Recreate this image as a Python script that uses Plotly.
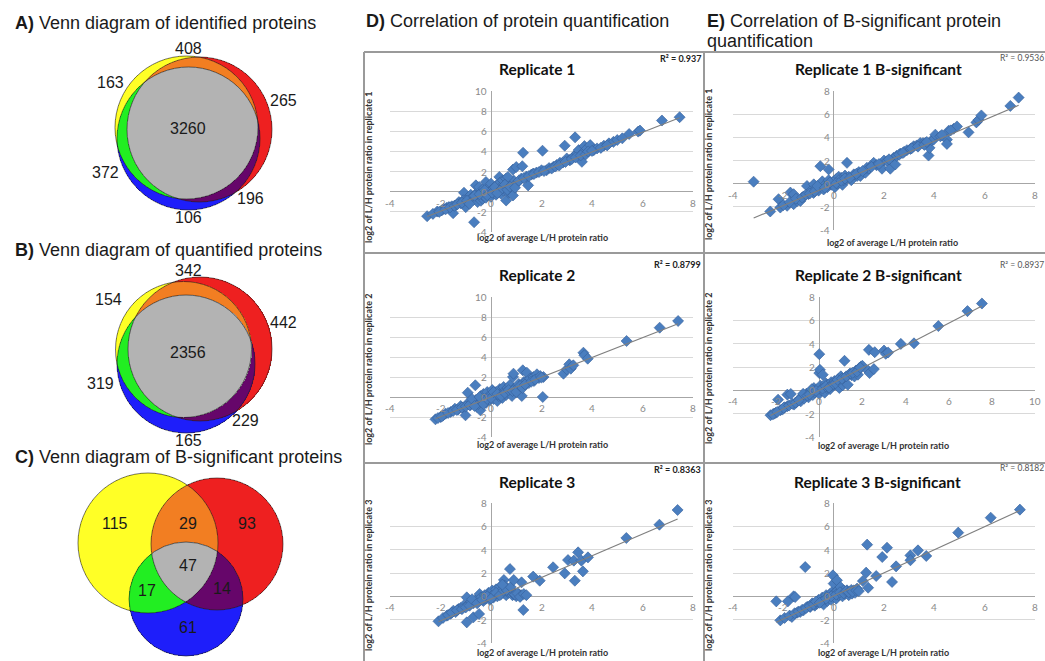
import numpy as np
import plotly.graph_objects as go

W, H = 1045, 661

# ---------------- data ----------------
venn_regions = ["Y", "R", "YR", "B", "YB", "RB", "YRB"]
venn_identified = [163, 265, 408, 106, 372, 196, 3260]
venn_quantified = [154, 442, 342, 165, 319, 229, 2356]
venn_bsig = [115, 93, 29, 61, 17, 14, 47]

section_titles = ["A)", "B)", "C)", "D)", "E)"]
section_texts = [" Venn diagram of identified proteins",
                 " Venn diagram of quantified proteins",
                 " Venn diagram of B-significant proteins",
                 " Correlation of protein quantification",
                 " Correlation of B-significant protein"]

panel_titles = ["Replicate 1", "Replicate 2", "Replicate 3",
                "Replicate 1 B-significant", "Replicate 2 B-significant", "Replicate 3 B-significant"]
r2_labels = ["R² = 0.937", "R² = 0.8799", "R² = 0.8363", "R² = 0.9536", "R² = 0.8937", "R² = 0.8182"]
y_titles = ["log2 of L/H protein ratio in replicate 1", "log2 of L/H protein ratio in replicate 2",
            "log2 of L/H protein ratio in replicate 3"] * 2
x_title = "log2 of average L/H protein ratio"
x_ticks = [[-4, -2, 0, 2, 4, 6, 8], [-4, -2, 0, 2, 4, 6, 8], [-4, -2, 0, 2, 4, 6, 8],
           [-4, -2, 0, 2, 4, 6, 8], [-4, -2, 0, 2, 4, 6, 8, 10], [-4, -2, 0, 2, 4, 6, 8]]
y_ticks = [[-4, -2, 0, 2, 4, 6, 8, 10], [-4, -2, 0, 2, 4, 6, 8, 10], [-4, -2, 0, 2, 4, 6, 8],
           [-4, -2, 0, 2, 4, 6, 8], [-4, -2, 0, 2, 4, 6, 8], [-4, -2, 0, 2, 4, 6, 8]]
trend_slope = [0.98, 0.99, 0.93, 0.925, 0.957, 0.99]
trend_intercept = [0.02, 0.0, -0.24, -0.03, 0.01, 0.04]

rep1_x = [-2.53, -2.13, -1.95, -1.87, -1.75, -1.67, -1.55, -1.4, -1.27, -1.5, -1.0, -1.07, -0.67, -1.2, -1.1,
          -0.9, -0.8, -0.73, -0.7, -0.6, -0.6, -0.53, -0.5, -0.47, -0.4, -0.4, -0.33, -0.3, -0.3, -0.2, -0.2,
          -0.2, -0.1, -0.1, 0.0, 0.0, 0.0, 0.1, 0.1, 0.2, 0.2, 0.2, 0.3, 0.33, 0.35, 0.4, 0.4, 0.47, 0.47,
          0.5, 0.6, 0.6, 0.6, 0.7, 0.7, 0.8, 0.87, 0.8, 0.9, 1.0,
          0.67, 0.87, 1.0, 1.24, 1.27, 1.47, 1.2, 1.4, 1.6, 1.67, 1.8, 2.0, 2.04, 2.2, 2.3, 2.47, 2.6, 2.73,
          2.85, 2.92, 3.0, 3.1, 3.13, 3.27, 3.33, 3.4, 3.47, 3.53, 3.6, 3.65, 3.7, 3.8, 3.93, 4.07, 4.2,
          4.47, 4.67, 4.85, 5.0, 5.47, 5.83, 5.9, 6.77, 7.47,
          -2.3, -2.05, -1.8, -1.62, -1.45, -1.33, -1.15, -0.95, -0.85, -0.65, -0.45, -0.25, -0.15, 0.05,
          0.15, 0.25, 0.45, 0.55, 0.65, 0.75, 0.95, 1.1, 1.3, 1.5, 1.7, 1.9, 2.1, 2.4, 2.55, 2.7, 2.95,
          3.2, 3.35, 3.55, 3.75, 3.85, 4.0, 4.35, 4.6, 5.2]
rep1_y = [-2.43, -1.97, -1.85, -1.7, -1.6, -1.53, -1.45, -1.37, -1.03, -2.13, -1.53, -0.1, -3.03, -1.15, -0.85,
          -0.6, -0.3, -0.53, -0.8, -0.2, 0.63, -1.03, -0.5, 0.47, -0.1, -0.9, -0.7, 0.3, -0.4, 0.97, 0.0,
          -0.6, 0.4, -0.2, 0.8, 0.1, -0.5, 0.3, -0.1, 0.13, 0.6, -0.3, 0.2, 1.47, 0.9, 0.5, -0.2, 0.47, 1.13,
          0.1, 1.3, -0.87, 0.4, 0.9, -0.1, -0.03, -0.37, 0.6, 1.1, 0.8,
          1.47, 2.2, 2.45, 2.53, 3.87, 0.63, 1.3, 1.5, 1.7, 1.8, 1.9, 2.13, 4.07, 2.13, 2.35, 2.47, 2.65, 2.87,
          2.9, 4.57, 3.3, 3.15, 3.13, 3.47, 5.4, 3.8, 4.13, 3.47, 2.97, 3.9, 4.53, 4.3, 4.63, 4.13, 4.3,
          4.57, 4.8, 4.95, 5.13, 5.73, 5.97, 6.07, 7.07, 7.4,
          -2.2, -2.0, -1.75, -1.55, -1.4, -1.25, -1.1, -0.9, -1.2, -0.4, -0.25, 0.15, -0.35, -0.1,
          0.45, -0.15, 0.35, 0.7, 0.2, 0.5, 0.4, 1.1, 1.35, 1.55, 1.75, 1.95, 2.05, 2.3, 2.5, 2.6, 2.95,
          3.25, 3.4, 3.6, 3.7, 4.0, 4.05, 4.35, 4.6, 5.3]

rep2_x = [-2.2, -2.0, -1.9, -1.8, -1.6, -1.43, -1.3, -1.2, -1.1, -1.01, -0.95, -0.92, -0.82, -0.62, -0.55,
          -0.42, -0.7, -0.6, -0.5, -0.4, -0.35, -0.3, -0.25, -0.2, -0.15, -0.1, -0.05, 0.0, 0.05, 0.1,
          0.15, 0.2, 0.25, 0.3, 0.35, 0.4, 0.45, 0.5, 0.55, 0.6, 0.65, 0.7, 0.75, 0.83, 0.87, 0.89, 0.9,
          1.0, 1.03, 1.1, 1.22, 1.26, 1.3, 1.42, 1.42, 1.5, 1.55, 1.68, 1.7, 1.82, 1.9, 2.05, 2.08, 2.87,
          3.0, 3.1, 3.16, 3.26, 3.66, 3.7, 3.83, 5.37, 6.68, 7.41,
          -2.1, -1.95, -1.7, -1.5, -1.35, -1.15, -1.0, -0.85, -0.75, -0.65, -0.45, -0.3, -0.15, 0.0,
          0.1, 0.25, 0.4, 0.55, 0.7, 0.85, 1.0, 1.15, 1.25, 1.35, 1.6, 1.75, 1.95, 2.0]
rep2_y = [-2.23, -2.0, -1.85, -1.67, -1.5, -1.17, -1.25, -0.9, -1.1, -1.83, -0.7, 0.43, -0.83, 1.17, -1.0,
          -1.33, -0.5, -0.3, -0.7, 0.1, -0.4, 0.3, -0.1, -0.6, 0.5, 0.0, -0.3, 0.3, 0.7, -0.2,
          0.2, 0.5, -0.4, 0.1, 0.8, 0.4, -0.1, 1.0, 0.6, 0.2, 0.9, 0.5, 1.2, 0.1, 2.0, 2.33, 0.8,
          0.7, 1.0, 1.3, 0.1, 2.67, 1.5, 1.67, 2.43, 1.4, 1.83, 2.0, 1.6, 2.27, 1.9, 0.0, 2.0, 2.33,
          2.77, 3.27, 2.83, 3.17, 4.43, 4.17, 3.83, 5.6, 6.93, 7.6,
          -2.1, -1.95, -1.6, -1.4, -1.3, -1.05, -0.95, -0.8, -0.2, -0.9, 0.0, -0.7, -0.2, -0.1,
          0.5, 0.3, 0.1, 0.4, 0.7, 0.6, 0.5, 1.1, 0.9, 1.25, 1.55, 1.75, 2.1, 1.95]

rep3_x = [-2.08, -1.75, -1.6, -1.49, -1.4, -1.29, -1.2, -1.09, -0.96, -0.96, -0.7, -0.47, -0.9, -0.8, -0.7,
          -0.6, -0.5, -0.45, -0.4, -0.3, -0.25, -0.2, -0.1, -0.05, 0.0, 0.05, 0.1, 0.15, 0.2, 0.25, 0.3,
          0.35, 0.4, 0.45, 0.5, 0.51, 0.55, 0.6, 0.65, 0.7, 0.75, 0.8, 0.85, 0.9, 1.0, 1.1, 1.2, 1.21,
          1.28, 1.67, 1.93, 2.46, 2.92, 3.05, 3.28, 3.32, 3.45, 3.58, 3.64, 3.84, 5.36, 6.67, 7.39,
          -1.9, -1.7, -1.55, -1.35, -1.15, -1.0, -0.85, -0.75, -0.55, -0.35, -0.15, 0.0, 0.2, 0.35, 0.5,
          0.62, 0.78, 0.95, 1.05, 1.15, 1.3, 1.4, 0.9, 0.45]
rep3_y = [-2.14, -1.66, -1.5, -1.23, -1.35, -1.09, -1.0, -0.8, -2.23, -0.09, -1.8, -1.51, -0.7, -0.5, -0.6,
          -0.3, -0.45, 0.2, -0.1, -0.4, 0.1, -0.2, 0.3, -0.3, 0.1, 0.5, -0.1, 0.3, 0.6, 0.0, 0.4,
          0.8, 0.2, 0.6, 0.3, 1.4, 0.9, 0.1, 0.6, 0.3, 2.34, 0.5, 0.1, 0.2, 0.0, 0.2, 0.1, 1.2,
          -1.17, 1.69, 1.34, 2.49, 1.97, 3.11, 3.06, 1.34, 3.77, 3.06, 2.14, 3.34, 5.0, 6.14, 7.4,
          -1.85, -1.6, -1.4, -1.2, -1.1, -0.95, -0.8, -0.25, -0.6, -0.3, 0.0, -0.2, 0.3, 0.1, 0.5,
          0.55, 0.8, 0.15, 0.25, -0.05, 0.2, 0.1, 1.4, 1.0]

bsig1_x = [-3.18, -2.52, -2.19, -2.12, -1.85, -1.72, -1.59, -1.59, -1.45, -1.32, -1.2, -1.06, -1.0, -0.9,
           -0.79, -0.8, -0.7, -0.6, -0.53, -0.5, -0.45, -0.4, -0.3, -0.25, -0.2, -0.2, -0.1, 0.0, 0.05, 0.1,
           0.15, 0.2, 0.25, 0.3, 0.35, 0.4, 0.45, 0.53, 0.5, 0.6, 0.7, 0.8, 0.93, 1.06, 1.0, 1.26, 1.32,
           1.4, 1.59, 1.7, 1.92, 2.0, 2.12, 2.25, 2.38, 2.45, 2.5, 2.65, 2.8, 2.91, 3.05, 3.18, 3.3, 3.44,
           3.55, 3.64, 3.77, 3.81, 3.9, 3.97, 4.04, 4.24, 4.5, 4.5, 4.57, 4.77, 4.9, 5.36, 5.67, 5.76,
           5.87, 7.02, 7.35,
           -2.0, -1.75, -1.5, -1.25, -1.1, -0.95, -0.75, -0.65, -0.35, -0.15, 0.1, 0.3, 0.45, 0.65, 0.9,
           1.15, 1.5, 1.8, 2.2, 2.6, 2.75, 3.1, 3.35, 3.6, 3.7, 4.3, 4.65]
bsig1_y = [0.17, -2.4, -1.34, -2.06, -1.91, -0.77, -0.91, -1.77, -1.5, -1.49, -1.1, -0.2, -0.9, -0.6,
           -0.06, -0.8, -0.4, -0.6, 1.51, -0.2, 0.2, -0.5, 0.0, -0.3, 1.23, 0.3, -0.1, 0.2, -0.3, 0.4,
           0.0, 0.6, 0.2, 0.5, -0.1, 0.3, 0.7, 1.8, 0.4, 0.6, 0.3, 0.8, 0.66, 0.66, 1.0, 0.94, 1.37,
           1.3, 1.8, 1.6, 1.29, 2.0, 1.94, 1.29, 2.23, 1.66, 2.4, 2.6, 2.75, 2.89, 3.0, 3.23, 3.3, 3.51,
           3.5, 3.51, 2.43, 3.09, 3.75, 3.8, 4.23, 4.09, 3.8, 3.43, 4.57, 4.74, 4.94, 4.43, 5.29, 5.51,
           5.89, 6.71, 7.43,
           -1.85, -1.6, -1.3, -1.2, -0.95, -0.85, -0.65, -0.2, -0.35, 0.1, 0.05, 0.25, 0.45, 0.5, 0.85,
           1.1, 1.45, 1.7, 2.1, 2.5, 2.65, 3.05, 3.2, 3.35, 3.6, 4.2, 4.6]

bsig2_x = [-2.26, -2.1, -2.02, -1.91, -1.8, -1.71, -1.6, -1.48, -1.48, -1.32, -1.17, -1.05, -0.86, -0.8,
           -0.7, -0.6, -0.5, -0.4, -0.3, -0.25, -0.2, -0.1, 0.0, 0.0, 0.03, 0.0, 0.05, 0.1, 0.16, 0.2, 0.25,
           0.3, 0.35, 0.4, 0.5, 0.55, 0.6, 0.7, 0.8, 0.93, 0.9, 1.09, 1.0, 1.17, 1.2, 1.32, 1.4, 1.5, 1.63,
           1.7, 1.79, 1.85, 1.94, 2.0, 2.26, 2.3, 2.33, 2.53, 2.57, 3.0, 3.08, 3.19, 3.78, 4.39, 5.52,
           6.87, 7.54,
           -2.15, -1.95, -1.65, -1.4, -1.25, -1.1, -0.95, -0.75, -0.55, -0.45, -0.35, -0.15, 0.15, 0.3,
           0.45, 0.65, 0.75, 0.85, 1.05, 1.25, 1.45, 1.55, 1.75, 1.9]
bsig2_y = [-2.13, -2.0, -1.93, -0.8, -1.7, -1.65, -1.45, -1.36, -0.37, -0.31, -1.22, -1.0, -0.94, -0.5,
           -0.7, -0.3, -0.6, -0.1, -0.4, 0.2, -0.2, 0.1, 3.1, 1.48, 1.76, -0.3, 0.4, 0.0, 1.34, 0.3, -0.2,
           0.6, 0.2, 0.5, 0.1, 0.7, 0.4, 0.8, 0.5, 0.2, 1.0, 0.43, 1.2, 2.53, 1.1, 0.48, 1.4, 1.3, 1.19,
           1.7, 1.34, 1.9, 2.05, 2.1, 1.7, 3.47, 1.48, 1.82, 3.27, 3.41, 3.13, 3.24, 3.98, 4.03, 5.51,
           6.79, 7.44,
           -2.05, -1.85, -1.5, -1.3, -1.15, -1.05, -0.85, -0.3, -0.45, -0.35, 0.1, -0.05, 0.15, 0.35,
           0.25, 0.55, 0.6, 0.9, 1.0, 1.2, 1.45, 1.5, 1.6, 1.95]

bsig3_x = [-2.28, -2.12, -1.82, -1.66, -1.59, -1.53, -1.45, -1.33, -1.2, -1.13, -1.05, -0.93, -0.85, -0.75,
           -0.66, -0.6, -0.5, -0.45, -0.4, -0.35, -0.3, -0.25, -0.2, -0.15, -0.1, -0.05, -0.03, 0.0, 0.0,
           0.05, 0.1, 0.13, 0.15, 0.2, 0.27, 0.3, 0.35, 0.4, 0.45, 0.53, 0.55, 0.6, 0.65, 0.73, 0.8, 0.85,
           0.93, 1.16, 1.29, 1.33, 1.37, 1.69, 1.93, 2.12, 2.32, 2.48, 3.05, 3.05, 3.35, 3.68, 4.95, 6.24,
           7.4,
           -1.95, -1.75, -1.55, -1.4, -1.25, -1.1, -0.95, -0.8, -0.7, -0.55, -0.3, -0.1, 0.1, 0.25, 0.4,
           0.5, 0.6, 0.7, 0.75, 0.9, 1.0]
bsig3_y = [-0.43, -2.06, -0.43, -1.77, 0.0, -0.06, -1.4, -1.34, -1.2, 2.51, -0.9, -0.91, -0.6, -0.8,
           -0.63, -0.3, -0.5, -0.1, -0.7, -0.2, 0.1, -0.4, -0.1, 0.2, -0.3, 0.4, 1.8, 1.09, 0.0,
           0.3, -0.2, 1.37, 0.5, 0.1, 0.8, 0.3, 0.0, 0.5, 0.2, 0.51, 0.3, 0.1, 0.4, 0.23, 0.51, 0.3,
           0.66, 1.31, 2.03, 4.43, 0.74, 1.74, 3.37, 4.17, 1.23, 2.57, 3.51, 3.09, 3.94, 3.46, 5.46, 6.74,
           7.43,
           -1.85, -1.65, -1.45, -1.3, -1.15, -1.0, -0.85, -0.7, -0.45, -0.55, -0.2, 0.0, 0.15, 0.35, 0.25,
           0.45, 0.35, 0.55, 0.4, 0.5, 0.45]

series_x = [rep1_x, rep2_x, rep3_x, bsig1_x, bsig2_x, bsig3_x]
series_y = [rep1_y, rep2_y, rep3_y, bsig1_y, bsig2_y, bsig3_y]

# ---------------- layout geometry (pixels) ----------------
col_px = [(390, 693), (390, 693), (390, 693), (733, 1035), (733, 1035), (733, 1035)]
row_px = [(91, 232), (297, 437), (503, 643), (91, 230), (297, 437), (503, 643)]
title_px = [(537, 69), (537, 275), (537, 482), (878, 69), (878, 275), (877, 482)]
r2_px = [(703, 59), (703, 265), (703, 470), (1046, 58), (1046, 265), (1046, 468)]
xtitle_px = [(542, 238), (542, 444), (542, 652), (892, 242), (883, 445), (883, 652)]
ytitle_px = [(368, 168), (368, 370), (368, 576), (708, 165), (708, 369), (708, 576)]

venn_fill = ["#FFFF26", "#EE2020", "#F27E22", "#1E1EFA", "#22EE22", "#66066A", "#B3B3B3"]
venn_geom = [
    [(186.5, 127.5, 71.5), (199.5, 129.5, 72.5), (188.5, 138.5, 71.5)],
    [(183.5, 349.5, 68.0), (200.0, 349.0, 72.0), (186.0, 364.0, 69.0)],
    [(148.0, 543.0, 70.0), (217.0, 544.0, 66.0), (186.0, 599.0, 57.0)],
]
venn_label_px = [
    [(110, 82), (283, 100), (188, 48), (188, 217), (105, 172), (250, 198), (188, 128)],
    [(108, 299), (283, 322), (188, 270), (188, 440), (100, 383), (245, 420), (188, 352)],
    [(115, 523), (247, 523), (188, 523), (188, 627), (147, 590), (222, 588), (188, 565)],
]
venn_counts = [venn_identified, venn_quantified, venn_bsig]
section_px = [(13, 23), (13, 250), (13, 457), (364, 21), (705, 21)]


def paper(x, y):
    return x / W, 1 - y / H


fig = go.Figure()
annotations = []
shapes = []
BLUE = "#4a7ebf"

for i in range(6):
    k = i + 1
    xa = "xaxis" if k == 1 else f"xaxis{k}"
    ya = "yaxis" if k == 1 else f"yaxis{k}"
    xr = "x" if k == 1 else f"x{k}"
    yr = "y" if k == 1 else f"y{k}"
    xlo, xhi = x_ticks[i][0], x_ticks[i][-1]
    ylo, yhi = y_ticks[i][0], y_ticks[i][-1]
    (px0, px1), (pytop, pybot) = col_px[i], row_px[i]
    fig.update_layout(**{
        xa: dict(domain=[px0 / W, px1 / W], range=[xlo, xhi], anchor=yr, showgrid=False,
                 zeroline=True, zerolinecolor="#a6a6a6", zerolinewidth=1, showticklabels=False,
                 ticks="", showline=False, fixedrange=True),
        ya: dict(domain=[1 - pybot / H, 1 - pytop / H], range=[ylo, yhi], anchor=xr,
                 showgrid=True, gridcolor="#d9d9d9", gridwidth=1, tickvals=y_ticks[i],
                 zeroline=True, zerolinecolor="#a6a6a6", zerolinewidth=1, showticklabels=False,
                 ticks="", showline=False, fixedrange=True),
    })
    xs = np.array(series_x[i])
    ys = np.array(series_y[i])
    fig.add_trace(go.Scatter(x=xs, y=ys, mode="markers", xaxis=xr, yaxis=yr, hoverinfo="skip",
                             marker=dict(symbol="diamond", size=8.5, color=BLUE,
                                         line=dict(width=0.6, color="#35609a"))))
    tx = np.array([xs.min(), xs.max()])
    fig.add_trace(go.Scatter(x=tx, y=trend_slope[i] * tx + trend_intercept[i], mode="lines",
                             xaxis=xr, yaxis=yr, hoverinfo="skip",
                             line=dict(color="#7f7f7f", width=1.1)))
    tick_font = dict(family="Lato, Liberation Sans", size=10, color="#8a8a8a")
    for t in x_ticks[i]:
        annotations.append(dict(x=t, y=0, xref=xr, yref=yr, text=str(t), showarrow=False,
                                xanchor="center", yanchor="middle", yshift=-11, font=tick_font))
    for t in y_ticks[i]:
        annotations.append(dict(x=0, y=t, xref=xr, yref=yr, text=str(t), showarrow=False,
                                xanchor="right", yanchor="middle", xshift=-2, font=tick_font))
    tx0, ty0 = paper(*title_px[i])
    annotations.append(dict(x=tx0, y=ty0, xref="paper", yref="paper", text=f"<b>{panel_titles[i]}</b>",
                            xanchor="center", yanchor="middle",
                            showarrow=False, font=dict(family="Lato", size=15.5, color="#111")))
    rx, ry = paper(*r2_px[i])
    r2txt = f"<b>{r2_labels[i]}</b>" if i < 3 else r2_labels[i]
    annotations.append(dict(x=rx, y=ry, xref="paper", yref="paper", text=r2txt, xanchor="right",
                            yanchor="middle", showarrow=False,
                            font=dict(family="Lato", size=9 if i < 3 else 8.5,
                                      color="#222" if i < 3 else "#555")))
    ax, ay = paper(*xtitle_px[i])
    annotations.append(dict(x=ax, y=ay, xref="paper", yref="paper", text=f"<b>{x_title}</b>",
                            xanchor="center", yanchor="middle",
                            showarrow=False, font=dict(family="Lato", size=9, color="#333")))
    bx, by = paper(*ytitle_px[i])
    annotations.append(dict(x=bx, y=by, xref="paper", yref="paper", text=f"<b>{y_titles[i]}</b>",
                            xanchor="center", yanchor="middle", showarrow=False, textangle=-90,
                            font=dict(family="Lato", size=9, color="#333")))

# ---------------- Venn overlay axis (pixel coordinates) ----------------
fig.update_layout(
    xaxis7=dict(domain=[0, 1], range=[0, W], visible=False, fixedrange=True, anchor="y7"),
    yaxis7=dict(domain=[0, 1], range=[H, 0], visible=False, fixedrange=True, anchor="x7"),
)
cscale = []
for j, c in enumerate(venn_fill):
    cscale.append([j / 7, c])
    cscale.append([(j + 1) / 7, c])

for v, circles in enumerate(venn_geom):
    xmin = min(cx - r for cx, cy, r in circles) - 1
    xmax = max(cx + r for cx, cy, r in circles) + 1
    ymin = min(cy - r for cx, cy, r in circles) - 1
    ymax = max(cy + r for cx, cy, r in circles) + 1
    gx = np.arange(xmin, xmax, 0.5)
    gy = np.arange(ymin, ymax, 0.5)
    X, Y = np.meshgrid(gx, gy)
    code = np.zeros(X.shape, dtype=int)
    for bit, (cx, cy, r) in zip([1, 2, 4], circles):
        code += bit * (((X - cx) ** 2 + (Y - cy) ** 2) <= r * r)
    z = code.astype(float)
    z[code == 0] = np.nan
    fig.add_trace(go.Heatmap(x=gx, y=gy, z=z, xaxis="x7", yaxis="y7", colorscale=cscale,
                             zmin=0.5, zmax=7.5, showscale=False, hoverinfo="skip", zsmooth=False))
    for cx, cy, r in circles:
        shapes.append(dict(type="circle", xref="x7", yref="y7", x0=cx - r, x1=cx + r,
                           y0=cy - r, y1=cy + r, line=dict(color="rgba(30,30,30,0.75)", width=0.8)))
    for (lx, ly), cnt in zip(venn_label_px[v], venn_counts[v]):
        annotations.append(dict(x=lx, y=ly, xref="x7", yref="y7", text=str(cnt), showarrow=False,
                                xanchor="center", yanchor="middle",
                                font=dict(family="Liberation Sans, Arial", size=16, color="#1a1a1a")))

# ---------------- section headings ----------------
head_font = dict(family="Liberation Sans, Arial", size=18, color="#1a1a1a")
for (sx, sy), lab, txt in zip(section_px, section_titles, section_texts):
    px_, py_ = paper(sx, sy)
    annotations.append(dict(x=px_, y=py_, xref="paper", yref="paper", xanchor="left", yanchor="middle",
                            text=f"<b>{lab}</b>{txt}", showarrow=False, font=head_font))
qx, qy = paper(705, 41)
annotations.append(dict(x=qx, y=qy, xref="paper", yref="paper", xanchor="left", yanchor="middle",
                        text="quantification", showarrow=False, font=head_font))

# ---------------- panel borders ----------------
bcol = "#9a9a9a"
for yy in [52, 253, 463]:
    x0, y0 = paper(364, yy)
    x1, _ = paper(W, yy)
    shapes.append(dict(type="line", xref="paper", yref="paper", x0=x0, x1=x1, y0=y0, y1=y0,
                       line=dict(color=bcol, width=2)))
for xx in [364, 704]:
    x0, y0 = paper(xx, 52)
    _, y1 = paper(xx, H)
    shapes.append(dict(type="line", xref="paper", yref="paper", x0=x0, x1=x0, y0=y0, y1=y1,
                       line=dict(color=bcol, width=2)))

fig.update_layout(width=W, height=H, margin=dict(l=0, r=0, t=0, b=0), showlegend=False,
                  paper_bgcolor="white", plot_bgcolor="rgba(0,0,0,0)",
                  annotations=annotations, shapes=shapes)
fig.write_html("out.html", config={"displayModeBar": False},
               post_script="document.body.style.margin='0px';document.body.style.overflow='hidden';")
